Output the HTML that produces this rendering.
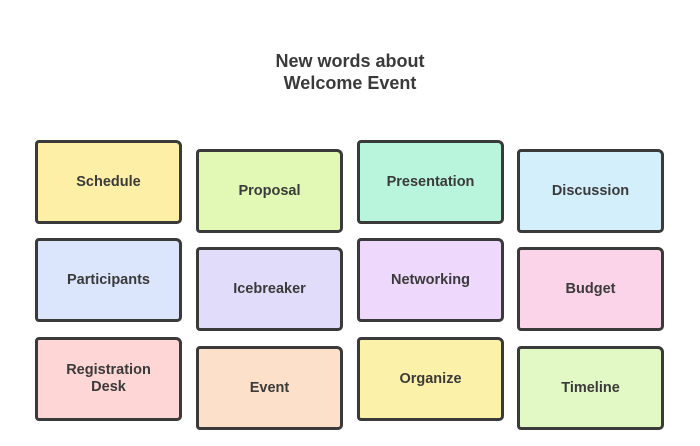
<!DOCTYPE html>
<html><head><meta charset="utf-8"><style>
body{margin:0;width:700px;height:446px;background:#fff;position:relative;font-family:"Liberation Sans",sans-serif;overflow:hidden}
.t{position:absolute;left:0;width:700px;top:50px;text-align:center;font-weight:bold;font-size:18px;line-height:22px;color:#3a3a3a}
.c{position:absolute;width:141px;height:78px;border:3px solid #3a3a3a;border-radius:4px 6px 5px 4px;display:flex;align-items:center;justify-content:center;text-align:center;font-weight:bold;font-size:14.5px;line-height:17px;color:#3a3a3a;box-sizing:content-box}
</style></head><body>
<div class="t">New words about<br>Welcome Event</div>
<div class="c" style="left:35px;top:140px;background:#fdf0a6">Schedule</div>
<div class="c" style="left:196px;top:149px;background:#e2f9b6">Proposal</div>
<div class="c" style="left:357px;top:140px;background:#b9f4dc;padding-bottom:0">Presentation</div>
<div class="c" style="left:517px;top:149px;background:#d3effb">Discussion</div>
<div class="c" style="left:35px;top:238px;background:#dbe6fd">Participants</div>
<div class="c" style="left:196px;top:247px;background:#e2dcfb">Icebreaker</div>
<div class="c" style="left:357px;top:238px;background:#eed8fb">Networking</div>
<div class="c" style="left:517px;top:247px;background:#fbd4ea">Budget</div>
<div class="c" style="left:35px;top:337px;background:#fdd6d5">Registration<br>Desk</div>
<div class="c" style="left:196px;top:346px;background:#fde0c9">Event</div>
<div class="c" style="left:357px;top:337px;background:#fcf1a8">Organize</div>
<div class="c" style="left:517px;top:346px;background:#e2f8c5">Timeline</div>
</body></html>
